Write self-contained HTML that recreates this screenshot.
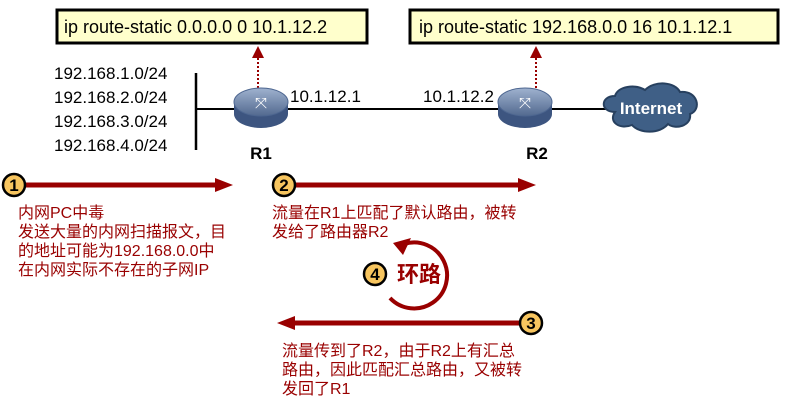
<!DOCTYPE html>
<html><head><meta charset="utf-8"><style>
body{margin:0;background:#fff;}
svg{display:block;font-family:"Liberation Sans","Noto Sans CJK SC",sans-serif;}
</style></head><body>
<svg width="787" height="404" viewBox="0 0 787 404">
<defs>
<marker id="dh" markerWidth="6" markerHeight="6" refX="3" refY="3" orient="auto"><path d="M0,0 L6,3 L0,6z" fill="#990000"/></marker>
<linearGradient id="rg" x1="0" y1="0" x2="0" y2="1"><stop offset="0" stop-color="#9fb2cf"/><stop offset="1" stop-color="#52698f"/></linearGradient>
</defs>
<rect x="57" y="10" width="310" height="33" fill="#ffffcc" stroke="#000" stroke-width="3"/>
<text x="64" y="33" font-size="18">ip route-static 0.0.0.0 0 10.1.12.2</text>
<rect x="410" y="10" width="368" height="33" fill="#ffffcc" stroke="#000" stroke-width="3"/>
<text x="419" y="33" font-size="18">ip route-static 192.168.0.0 16 10.1.12.1</text>
<line x1="258" y1="88" x2="258" y2="52" stroke="#990000" stroke-width="2" stroke-dasharray="2,2" marker-end="url(#dh)"/>
<line x1="536" y1="88" x2="536" y2="52" stroke="#990000" stroke-width="2" stroke-dasharray="2,2" marker-end="url(#dh)"/>
<g font-size="17">
<text x="54" y="79">192.168.1.0/24</text>
<text x="54" y="103">192.168.2.0/24</text>
<text x="54" y="127">192.168.3.0/24</text>
<text x="54" y="151">192.168.4.0/24</text>
<text x="290" y="102">10.1.12.1</text>
<text x="423" y="102">10.1.12.2</text>
</g>
<line x1="196" y1="73" x2="196" y2="150" stroke="#000" stroke-width="2.5"/>
<line x1="196" y1="109" x2="620" y2="109" stroke="#000" stroke-width="2"/>
<g>
<ellipse cx="261" cy="114" rx="27" ry="14" fill="#3d5580"/>
<rect x="234" y="102" width="54" height="12" fill="#3d5580"/>
<ellipse cx="261" cy="102" rx="27" ry="14" fill="url(#rg)" stroke="#4d6690"/>
<text x="261" y="108" font-size="15" fill="#fff" text-anchor="middle">⤧</text>
</g>
<g transform="translate(264,0)">
<ellipse cx="261" cy="114" rx="27" ry="14" fill="#3d5580"/>
<rect x="234" y="102" width="54" height="12" fill="#3d5580"/>
<ellipse cx="261" cy="102" rx="27" ry="14" fill="url(#rg)" stroke="#4d6690"/>
<text x="261" y="108" font-size="15" fill="#fff" text-anchor="middle">⤧</text>
</g>
<text x="261" y="159" font-size="17" font-weight="bold" text-anchor="middle">R1</text>
<text x="537" y="159" font-size="17" font-weight="bold" text-anchor="middle">R2</text>
<g fill="#3f5f86" stroke="#27405f" stroke-width="2">
<path d="M615,112 C600,112 600,96 615,96 C618,86 635,84 645,90 C655,80 675,82 680,92 C698,90 702,110 690,114 C692,126 675,130 668,124 C660,134 640,134 632,125 C620,130 608,122 615,112z"/>
</g>
<text x="651" y="114" font-size="17" font-weight="bold" fill="#fff" text-anchor="middle">Internet</text>
<g stroke="#990000" stroke-width="5">
<line x1="20" y1="185" x2="220" y2="185"/>
<line x1="290" y1="185" x2="522" y2="185"/>
<line x1="528" y1="323" x2="292" y2="323"/>
</g>
<g fill="#990000">
<path d="M233,185 L215,178 L215,192z"/>
<path d="M536,185 L518,178 L518,192z"/>
<path d="M277,323 L295,316 L295,330z"/>
</g>
<g font-size="17" font-weight="bold" text-anchor="middle">
<circle cx="14" cy="185" r="11" fill="#f7c55f" stroke="#000" stroke-width="2.5"/><text x="14" y="191">1</text>
<circle cx="284" cy="185" r="11" fill="#f7c55f" stroke="#000" stroke-width="2.5"/><text x="284" y="191">2</text>
<circle cx="531" cy="323" r="11" fill="#f7c55f" stroke="#000" stroke-width="2.5"/><text x="531" y="329">3</text>
</g>
<path d="M390,298 A33,33 0 1 0 404,244" fill="none" stroke="#990000" stroke-width="4"/>
<path d="M411,238 L393,243 L403,255z" fill="#990000"/>
<text x="419" y="282" font-size="22" font-weight="bold" fill="#990000" text-anchor="middle">环路</text>
<circle cx="375" cy="274" r="11" fill="#f7c55f" stroke="#000" stroke-width="2.5"/><text x="375" y="280" font-size="17" font-weight="bold" text-anchor="middle">4</text>
<g font-size="16" fill="#990000">
<text x="18" y="218">内网PC中毒</text>
<text x="18" y="237">发送大量的内网扫描报文，目</text>
<text x="18" y="256">的地址可能为192.168.0.0中</text>
<text x="18" y="275">在内网实际不存在的子网IP</text>
<text x="272" y="218">流量在R1上匹配了默认路由，被转</text>
<text x="272" y="237">发给了路由器R2</text>
<text x="282" y="356">流量传到了R2，由于R2上有汇总</text>
<text x="282" y="375">路由，因此匹配汇总路由，又被转</text>
<text x="282" y="394">发回了R1</text>
</g>
</svg>
</body></html>
